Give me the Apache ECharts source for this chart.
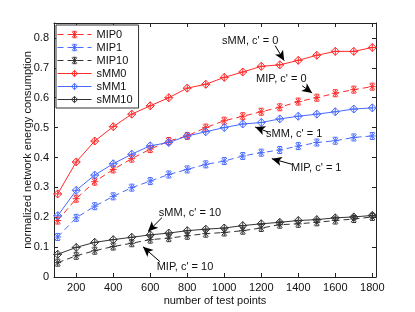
<!DOCTYPE html>
<html><head><meta charset="utf-8">
<script src="https://cdn.jsdelivr.net/npm/echarts@6/dist/echarts.min.js"></script>
<style>html,body{margin:0;padding:0;background:#fff}#c{width:415px;height:312px}</style>
</head><body><div id="c"></div>
<script>
var testPoints = [100,200,300,400,500,600,700,800,900,1000,1100,1200,1300,1400,1500,1600,1700,1800];
var MIP0  = [0.189,0.262,0.319,0.360,0.396,0.428,0.455,0.472,0.500,0.523,0.538,0.553,0.568,0.587,0.600,0.615,0.627,0.637];
var MIP1  = [0.134,0.198,0.237,0.270,0.299,0.321,0.343,0.360,0.377,0.388,0.405,0.416,0.425,0.438,0.450,0.456,0.467,0.472];
var MIP10 = [0.048,0.071,0.088,0.102,0.113,0.125,0.130,0.138,0.145,0.149,0.155,0.164,0.175,0.178,0.183,0.189,0.194,0.201];
var sMM0  = [0.278,0.385,0.455,0.503,0.545,0.573,0.600,0.632,0.645,0.668,0.686,0.705,0.710,0.725,0.742,0.755,0.755,0.768];
var sMM1  = [0.205,0.290,0.341,0.379,0.411,0.439,0.450,0.472,0.486,0.500,0.512,0.517,0.529,0.538,0.545,0.553,0.562,0.566];
var sMM10 = [0.076,0.099,0.116,0.125,0.133,0.141,0.147,0.155,0.160,0.164,0.172,0.178,0.183,0.189,0.192,0.198,0.201,0.206];
var xTicks = [200,400,600,800,1000,1200,1400,1600,1800];
var yTicks = [0,0.1,0.2,0.3,0.4,0.5,0.6,0.7,0.8];
var annotations = [
  {text:"sMM, c' = 0",  at:[1140,0.791], from:[1275,0.774], to:[1324,0.724]},
  {text:"MIP, c' = 0",  at:[1308,0.663], from:[1421,0.640], to:[1475,0.616]},
  {text:"sMM, c' = 1",  at:[1378,0.478], from:[1237,0.485], to:[1167,0.502]},
  {text:"MIP, c' = 1",  at:[1497,0.366], from:[1366,0.377], to:[1257,0.396]},
  {text:"sMM, c' = 10", at:[815,0.215],  from:[664,0.199],  to:[588,0.152]},
  {text:"MIP, c' = 10", at:[788,0.034],  from:[653,0.051],  to:[561,0.101]}
];

var RED='#ff2a2a', BLUE='#4a6bff', BLACK='#333333';
var FONT='"Liberation Sans", Arial, sans-serif';
var symMIP = 'path://M-4,0L4,0M-3,-3.5L3,3.5M-3,3.5L3,-3.5M0,-4L0,4M-2.5,-4L2.5,-4M-2.5,4L2.5,4';
var symSMM = 'path://M0,-5L5,0L0,5L-5,0ZM0,-5L0,5M-5,0L5,0';

function mk(name, vals, color, dashed, sym){
  return {
    name:name, type:'line', xAxisIndex:0, yAxisIndex:0,
    data: testPoints.map(function(x,i){return [x, vals[i]];}),
    symbol: sym, symbolSize: dashed ? 7 : 8, symbolKeepAspect:true,
    showAllSymbol:true,
    lineStyle:{color:color, width:1, type: dashed ? [6,4] : 'solid'},
    itemStyle:{color:'rgba(0,0,0,0)', borderColor:color, borderWidth:1},
    emphasis:{disabled:true}, animation:false, z:3
  };
}

var chart = echarts.init(document.getElementById('c'), null, {renderer:'canvas'});
function tick(){ return {show:true, inside:true, length:4, lineStyle:{color:'#222'}}; }
var axisLine = {show:true, onZero:false, lineStyle:{color:'#222', width:1}};
var option = {
  animation:false,
  backgroundColor:'#fff',
  textStyle:{fontFamily:FONT},
  grid:{left:54, top:23, right:39, bottom:35, containLabel:false},
  legend:{
    orient:'vertical', left:56, top:25,
    data:['MIP0','MIP1','MIP10','sMM0','sMM1','sMM10'],
    itemWidth:34, itemHeight:8, itemGap:0,
    padding:[3,6,2,1],
    borderColor:'#333', borderWidth:1, backgroundColor:'#fff',
    itemStyle:{color:'#fff', borderWidth:1},
    lineStyle:{width:1},
    textStyle:{fontSize:11, color:'#111', fontFamily:FONT, lineHeight:13},
    z:10
  },
  xAxis:[
    {type:'value', min:80, max:1820, position:'bottom',
      name:'number of test points', nameLocation:'middle', nameGap:18, nameMoveOverlap:false,
      nameTextStyle:{fontSize:11, color:'#111', fontFamily:FONT},
      axisLine:axisLine, splitLine:{show:false},
      axisTick:Object.assign(tick(), {customValues:xTicks}),
      axisLabel:{color:'#111', fontSize:11, margin:5, customValues:xTicks, fontFamily:FONT,
        formatter:function(v){return String(v);}}},
    {type:'value', min:80, max:1820, position:'top',
      axisLine:axisLine, splitLine:{show:false},
      axisTick:Object.assign(tick(), {customValues:xTicks}),
      axisLabel:{show:false}}
  ],
  yAxis:[
    {type:'value', min:0, max:0.85, position:'left',
      name:'normalized network energy consumption', nameLocation:'middle', nameGap:21, nameMoveOverlap:false,
      nameTextStyle:{fontSize:11, color:'#111', fontFamily:FONT},
      axisLine:axisLine, splitLine:{show:false},
      axisTick:Object.assign(tick(), {customValues:yTicks}),
      axisLabel:{color:'#111', fontSize:11, margin:5, customValues:yTicks, fontFamily:FONT,
        formatter:function(v){return v===0?'0':String(Math.round(v*10)/10);}}},
    {type:'value', min:0, max:0.85, position:'right',
      axisLine:axisLine, splitLine:{show:false},
      axisTick:Object.assign(tick(), {customValues:yTicks}),
      axisLabel:{show:false}}
  ],
  series:[
    mk('MIP0', MIP0, RED, true, symMIP),
    mk('MIP1', MIP1, BLUE, true, symMIP),
    mk('MIP10', MIP10, BLACK, true, symMIP),
    mk('sMM0', sMM0, RED, false, symSMM),
    mk('sMM1', sMM1, BLUE, false, symSMM),
    mk('sMM10', sMM10, BLACK, false, symSMM),
    {
      name:'annot', type:'line', data:[], xAxisIndex:0, yAxisIndex:0, silent:true,
      markLine:{
        silent:true, animation:false,
        symbol:['none','arrow'], symbolSize:[7,10],
        lineStyle:{color:'#000', width:1, type:'solid'},
        label:{show:false},
        data: annotations.map(function(a){return [{coord:a.from},{coord:a.to}];})
      },
      markPoint:{
        silent:true, animation:false, symbol:'rect', symbolSize:1,
        itemStyle:{color:'rgba(0,0,0,0)'},
        label:{show:true, position:'inside', color:'#111', fontSize:11, fontFamily:FONT,
          formatter:function(p){return p.name;}},
        data: annotations.map(function(a){return {name:a.text, coord:a.at};})
      }
    }
  ]
};
chart.setOption(option);
</script></body></html>
